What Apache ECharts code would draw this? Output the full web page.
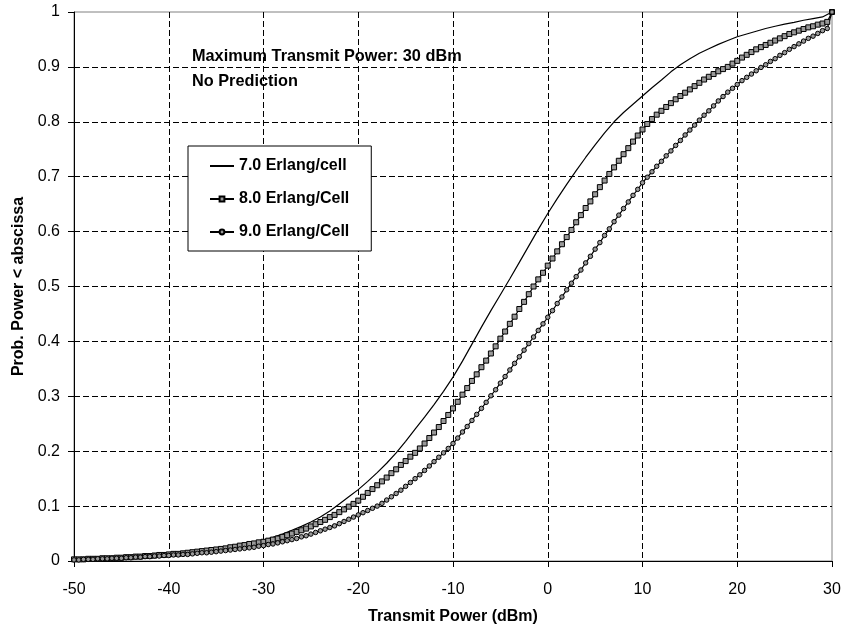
<!DOCTYPE html>
<html>
<head>
<meta charset="utf-8">
<script src="https://cdn.jsdelivr.net/npm/echarts@6/dist/echarts.min.js"></script>
<style>
  html, body { margin: 0; padding: 0; background: #fff; }
  #main { width: 845px; height: 635px; }
</style>
</head>
<body>
<div id="main"></div>
<script>
// x grid: the 7.0 curve is read every 1 dBm, the marked curves every 0.5 dBm
const xCoarse = Array.from({ length: 81 }, (_, i) => -50 + i);
const xFine = Array.from({ length: 161 }, (_, i) => -50 + i * 0.5);

const xTicks = [-50, -40, -30, -20, -10, 0, 10, 20, 30];
const seriesNames = ['7.0 Erlang/cell', '8.0 Erlang/Cell', '9.0 Erlang/Cell'];
const noteLines = ['Maximum Transmit Power: 30 dBm', 'No Prediction'];

// 7.0 Erlang/cell, x = -50 .. 30 step 1
const erlang7 = [
  0.003, 0.004, 0.004, 0.005, 0.006, 0.007, 0.008, 0.009, 0.010, 0.011,
  0.013, 0.014, 0.016, 0.018, 0.020, 0.022, 0.025, 0.028, 0.031, 0.034,
  0.038, 0.043, 0.049, 0.056, 0.063, 0.071, 0.080, 0.091, 0.104, 0.117,
  0.130, 0.145, 0.161, 0.178, 0.197, 0.218, 0.240, 0.262, 0.285, 0.309,
  0.335, 0.364, 0.395, 0.426, 0.456, 0.485, 0.514, 0.544, 0.574, 0.604,
  0.633, 0.660, 0.686, 0.711, 0.735, 0.758, 0.780, 0.800, 0.817, 0.832,
  0.847, 0.862, 0.876, 0.891, 0.904, 0.915, 0.925, 0.933, 0.941, 0.948,
  0.955, 0.960, 0.965, 0.970, 0.974, 0.978, 0.981, 0.985, 0.988, 0.991,
  1.0
];

// 8.0 Erlang/Cell, x = -50 .. 30 step 0.5
const erlang8 = [
  0.003, 0.003, 0.003, 0.004, 0.004, 0.004, 0.005, 0.005, 0.005, 0.006,
  0.006, 0.007, 0.007, 0.008, 0.008, 0.009, 0.009, 0.010, 0.011, 0.011,
  0.012, 0.013, 0.013, 0.014, 0.015, 0.016, 0.017, 0.018, 0.019, 0.020,
  0.021, 0.022, 0.023, 0.025, 0.026, 0.028, 0.029, 0.031, 0.032, 0.034,
  0.035, 0.037, 0.039, 0.041, 0.044, 0.047, 0.050, 0.053, 0.056, 0.059,
  0.063, 0.067, 0.071, 0.075, 0.080, 0.084, 0.089, 0.094, 0.099, 0.104,
  0.110, 0.117, 0.124, 0.131, 0.138, 0.145, 0.152, 0.160, 0.167, 0.175,
  0.182, 0.190, 0.197, 0.205, 0.214, 0.224, 0.234, 0.244, 0.255, 0.266,
  0.278, 0.290, 0.303, 0.315, 0.328, 0.340, 0.353, 0.365, 0.378, 0.391,
  0.405, 0.418, 0.432, 0.445, 0.459, 0.472, 0.486, 0.500, 0.513, 0.525,
  0.538, 0.551, 0.564, 0.577, 0.590, 0.603, 0.617, 0.630, 0.643, 0.655,
  0.668, 0.681, 0.693, 0.705, 0.717, 0.729, 0.741, 0.752, 0.764, 0.775,
  0.786, 0.796, 0.805, 0.813, 0.820, 0.827, 0.834, 0.841, 0.847, 0.853,
  0.859, 0.865, 0.871, 0.877, 0.882, 0.887, 0.892, 0.896, 0.900, 0.906,
  0.911, 0.917, 0.922, 0.927, 0.932, 0.936, 0.940, 0.944, 0.948, 0.952,
  0.956, 0.960, 0.963, 0.966, 0.969, 0.972, 0.974, 0.977, 0.979, 0.982,
  1.0
];

// 9.0 Erlang/Cell, x = -50 .. 30 step 0.5
const erlang9 = [
  0.002, 0.002, 0.003, 0.003, 0.003, 0.004, 0.004, 0.004, 0.005, 0.005,
  0.005, 0.006, 0.006, 0.007, 0.007, 0.008, 0.008, 0.009, 0.009, 0.010,
  0.010, 0.011, 0.011, 0.012, 0.012, 0.013, 0.014, 0.015, 0.015, 0.016,
  0.017, 0.018, 0.019, 0.020, 0.021, 0.022, 0.023, 0.024, 0.025, 0.027,
  0.028, 0.030, 0.031, 0.033, 0.035, 0.037, 0.039, 0.041, 0.044, 0.046,
  0.049, 0.052, 0.055, 0.058, 0.061, 0.064, 0.068, 0.072, 0.076, 0.080,
  0.084, 0.088, 0.092, 0.096, 0.100, 0.105, 0.111, 0.117, 0.123, 0.129,
  0.136, 0.143, 0.150, 0.157, 0.165, 0.173, 0.181, 0.189, 0.197, 0.205,
  0.214, 0.224, 0.235, 0.245, 0.256, 0.267, 0.278, 0.289, 0.301, 0.312,
  0.324, 0.336, 0.348, 0.360, 0.372, 0.384, 0.396, 0.408, 0.420, 0.432,
  0.444, 0.456, 0.469, 0.481, 0.494, 0.506, 0.518, 0.530, 0.543, 0.555,
  0.568, 0.580, 0.593, 0.605, 0.618, 0.630, 0.642, 0.654, 0.666, 0.677,
  0.689, 0.699, 0.709, 0.719, 0.728, 0.738, 0.747, 0.757, 0.766, 0.776,
  0.785, 0.794, 0.803, 0.812, 0.820, 0.829, 0.838, 0.846, 0.854, 0.861,
  0.868, 0.875, 0.881, 0.887, 0.893, 0.899, 0.904, 0.910, 0.915, 0.921,
  0.926, 0.932, 0.937, 0.942, 0.947, 0.952, 0.956, 0.961, 0.966, 0.970,
  1.0
];

const FONT = '"Liberation Sans", Arial, sans-serif';

const pairs = (xs, ys) => ys.map((v, i) => [xs[i], v]);

let myChart = echarts.init(document.getElementById('main'), null, { renderer: 'canvas' });

let option = {
  backgroundColor: '#fff',
  animation: false,
  textStyle: { fontFamily: FONT, color: '#000' },
  grid: {
    left: 74,
    right: 13,
    top: 12,
    bottom: 74,
    show: true,
    borderColor: '#808080',
    borderWidth: 1,
    backgroundColor: '#fff'
  },
  legend: {
    data: seriesNames,
    orient: 'vertical',
    left: 188,
    top: 146,
    padding: [12, 22, 11, 21],
    itemGap: 17,
    itemWidth: 24,
    itemHeight: 6,
    backgroundColor: '#fff',
    borderColor: '#000',
    borderWidth: 1,
    textStyle: { fontFamily: FONT, fontSize: 16, fontWeight: 'bold', color: '#000' }
  },
  xAxis: {
    type: 'value',
    min: xTicks[0],
    max: xTicks[xTicks.length - 1],
    interval: 10,
    name: 'Transmit Power (dBm)',
    nameLocation: 'middle',
    nameGap: 48,
    nameTextStyle: { fontFamily: FONT, fontSize: 16, fontWeight: 'bold', color: '#000' },
    axisLine: { onZero: false, lineStyle: { color: '#000', width: 1 } },
    axisTick: { show: true, inside: false, length: 6, lineStyle: { color: '#000' } },
    axisLabel: { fontFamily: FONT, fontSize: 16, color: '#000', margin: 21 },
    splitLine: {
      show: true,
      showMinLine: false,
      showMaxLine: false,
      lineStyle: { color: '#000', width: 1, type: [6, 3] }
    }
  },
  yAxis: {
    type: 'value',
    min: 0,
    max: 1,
    interval: 0.1,
    name: 'Prob. Power < abscissa',
    nameLocation: 'middle',
    nameGap: 45,
    nameTextStyle: { fontFamily: FONT, fontSize: 16, fontWeight: 'bold', color: '#000' },
    axisLine: { show: true, onZero: false, lineStyle: { color: '#000', width: 1 } },
    axisTick: { show: true, inside: false, length: 6, lineStyle: { color: '#000' } },
    axisLabel: { fontFamily: FONT, fontSize: 16, color: '#000', margin: 14 },
    splitLine: {
      show: true,
      showMinLine: false,
      showMaxLine: false,
      lineStyle: { color: '#000', width: 1, type: [6, 3] }
    }
  },
  graphic: noteLines.map((t, i) => ({
    type: 'text',
    left: 192,
    top: 49 + i * 25,
    z: 10,
    style: {
      text: t,
      fill: '#000',
      font: 'bold 16.3px ' + FONT
    }
  })),
  series: [
    {
      name: seriesNames[0],
      type: 'line',
      data: pairs(xCoarse, erlang7),
      showSymbol: false,
      symbol: 'none',
      lineStyle: { color: '#000', width: 1.2 },
      // no marker: keep the legend icon a plain line
      itemStyle: { color: 'rgba(0,0,0,0)', borderWidth: 0 }
    },
    {
      name: seriesNames[1],
      type: 'line',
      data: pairs(xFine, erlang8),
      symbol: 'rect',
      symbolSize: 5,
      lineStyle: { color: '#000', width: 1.2 },
      itemStyle: { color: '#999', borderColor: '#000', borderWidth: 1 }
    },
    {
      name: seriesNames[2],
      type: 'line',
      data: pairs(xFine, erlang9),
      symbol: 'circle',
      symbolSize: 4.5,
      lineStyle: { color: '#000', width: 1.2 },
      itemStyle: { color: '#999', borderColor: '#000', borderWidth: 1 }
    }
  ]
};

myChart.setOption(option, true);
</script>
</body>
</html>
